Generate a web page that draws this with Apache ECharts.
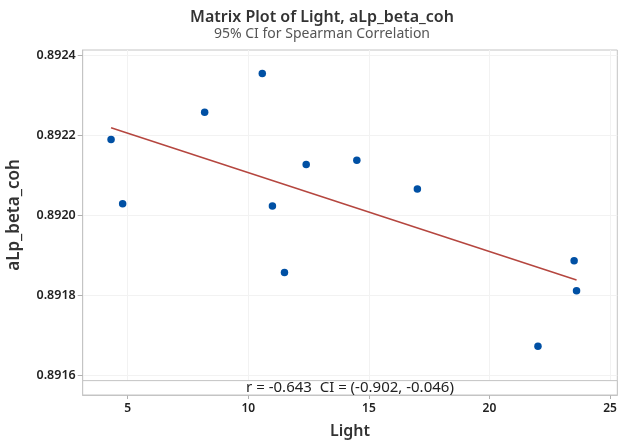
<!DOCTYPE html>
<html>
<head>
<meta charset="utf-8">
<script src="https://cdn.jsdelivr.net/npm/echarts@6/dist/echarts.min.js"></script>
<style>html,body{margin:0;padding:0;background:#fff}#c{width:624px;height:442px}</style>
</head>
<body>
<div id="c"></div>
<script>
const titleText = 'Matrix Plot of Light, aLp_beta_coh';
const subtitleText = '95% CI for Spearman Correlation';
const xName = 'Light';
const yName = 'aLp_beta_coh';
const annotationText = 'r = -0.643  CI = (-0.902, -0.046)';
const lightValues = [4.31, 4.79, 8.19, 10.58, 11.00, 11.50, 12.40, 14.50, 17.01, 22.01, 23.51, 23.61];
const cohValues = [0.89219, 0.892029, 0.892258, 0.892355, 0.892023, 0.891857, 0.892127, 0.892138, 0.892066, 0.891672, 0.891886, 0.891811];
const fitX = [4.31, 23.61];
const fitY = [0.892219, 0.891838];
const xTicks = [5, 10, 15, 20, 25];
const yTicks = [0.8916, 0.8918, 0.8920, 0.8922, 0.8924];
const xRange = [3.134, 25.30];
const yRange = [0.89155, 0.8924138];
const annotationTop = 0.891586;

const font = '"Noto Sans", "Open Sans", sans-serif';
const chart = echarts.init(document.getElementById('c'), null, {renderer: 'canvas'});
const points = lightValues.map((x, i) => [x, cohValues[i]]);
const fit = fitX.map((x, i) => [x, fitY[i]]);

chart.setOption({
  backgroundColor: '#fff',
  animation: false,
  title: [{
    text: titleText,
    subtext: subtitleText,
    left: 317, top: 4, textAlign: 'center',
    itemGap: 2,
    textStyle: {fontFamily: font, fontSize: 16, fontWeight: 600, color: '#333'},
    subtextStyle: {fontFamily: font, fontSize: 14, fontWeight: 'normal', color: '#555'}
  }],
  graphic: [{
    type: 'text', x: 14, y: 215, rotation: Math.PI / 2,
    style: {text: yName, align: 'center', verticalAlign: 'middle',
      fontFamily: font, fontSize: 17, fontWeight: 600, fill: '#333'}
  }],
  grid: {left: 82.7, right: 6.7, top: 50, bottom: 47, show: true, borderColor: '#c4c4c4', borderWidth: 1,
    backgroundColor: '#fff', containLabel: false, outerBoundsMode: 'none'},
  xAxis: {
    type: 'value', min: xRange[0], max: xRange[1],
    name: xName, nameLocation: 'middle', nameGap: 28,
    nameTextStyle: {fontFamily: font, fontSize: 16, fontWeight: 600, color: '#333'},
    axisLine: {show: true, lineStyle: {color: '#c4c4c4'}},
    axisTick: {show: true, length: 4, lineStyle: {color: '#b0b0b0'}, customValues: xTicks},
    axisLabel: {customValues: xTicks, fontFamily: font, fontSize: 12, fontWeight: 600, color: '#222', margin: 8},
    splitLine: {show: true, lineStyle: {color: '#f2f2f2'}}
  },
  yAxis: {
    type: 'value', min: yRange[0], max: yRange[1],
    axisLine: {show: true, lineStyle: {color: '#c4c4c4'}},
    axisTick: {show: true, length: 5, lineStyle: {color: '#b0b0b0'}, customValues: yTicks},
    axisLabel: {customValues: yTicks, fontFamily: font, fontSize: 12.5, fontWeight: 600, color: '#222', margin: 7,
      formatter: v => v.toFixed(4)},
    splitLine: {show: true, lineStyle: {color: '#f2f2f2'}}
  },
  series: [
    {
      type: 'line', data: fit, symbol: 'none', silent: true,
      lineStyle: {color: '#b5463f', width: 1.5},
      z: 2
    },
    {
      type: 'scatter', data: points, symbol: 'circle', symbolSize: 7.5,
      itemStyle: {color: '#0050a4', opacity: 1},
      z: 3,
      markArea: {
        silent: true,
        itemStyle: {color: '#fff', borderColor: '#c4c4c4', borderWidth: 1},
        label: {show: true, position: 'inside', formatter: annotationText,
          fontFamily: font, fontSize: 15, color: '#222'},
        data: [[{coord: [xRange[0], annotationTop]}, {coord: [xRange[1], yRange[0]]}]]
      }
    }
  ]
});
</script>
</body>
</html>
